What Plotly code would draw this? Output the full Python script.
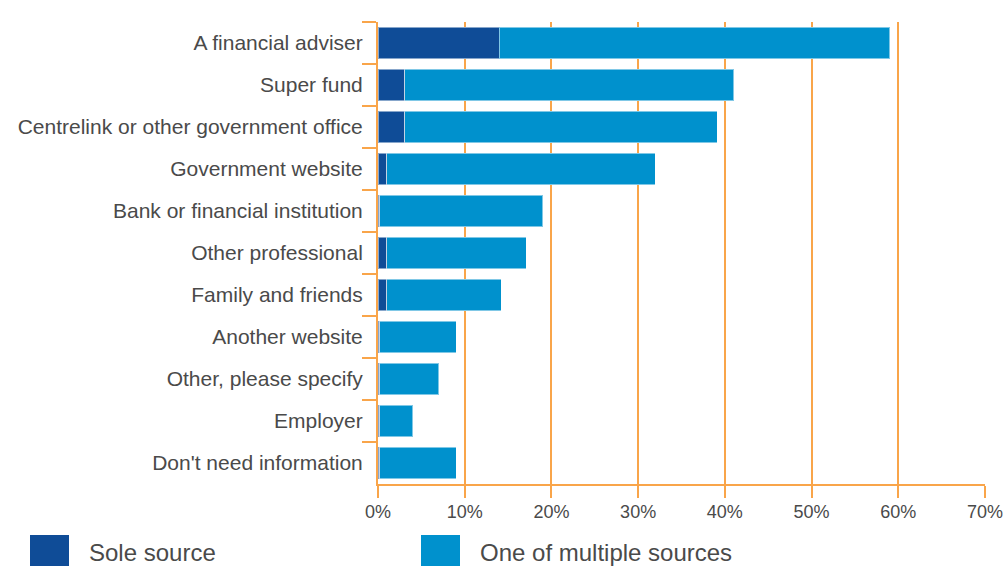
import plotly.graph_objects as go

categories = [
    "A financial adviser",
    "Super fund",
    "Centrelink or other government office",
    "Government website",
    "Bank or financial institution",
    "Other professional",
    "Family and friends",
    "Another website",
    "Other, please specify",
    "Employer",
    "Don't need information",
]
sole_source = [14, 3.1, 3.1, 1, 0.2, 1, 1, 0.2, 0.2, 0.2, 0.2]
multiple_sources = [45, 37.9, 36, 31, 18.8, 16.1, 13.2, 8.8, 6.8, 3.8, 8.8]
x_ticks = [0, 10, 20, 30, 40, 50, 60, 70]
x_tick_labels = ["0%", "10%", "20%", "30%", "40%", "50%", "60%", "70%"]

DARK = "#0f4c97"
LIGHT = "#0091cd"
ORANGE = "#f9a54a"
TEXT = "#4a4a4a"
FONT = "Liberation Sans, Arial, sans-serif"

W, H = 1008, 566
ML, MR, MT, MB = 378, 23, 22, 82

fig = go.Figure()
fig.add_trace(go.Bar(
    name="Sole source", y=categories, x=sole_source, orientation="h",
    marker=dict(color=DARK, line=dict(color="rgba(255,255,255,0.5)", width=1)),
))
fig.add_trace(go.Bar(
    name="One of multiple sources", y=categories, x=multiple_sources, orientation="h",
    marker=dict(color=LIGHT, line=dict(color="rgba(255,255,255,0.5)", width=1)),
))

# legend drawn by hand so the swatches can be large
pw = W - ML - MR
ph = H - MT - MB


def px_x(x):
    return (x - ML) / pw


def px_y(y):
    return (H - MB - y) / ph


legend_items = [("Sole source", DARK, 30), ("One of multiple sources", LIGHT, 421)]
shapes = []
annotations = []
for label, color, left in legend_items:
    shapes.append(dict(
        type="rect", xref="paper", yref="paper",
        x0=px_x(left), x1=px_x(left + 39), y0=px_y(535), y1=px_y(570),
        fillcolor=color, line=dict(width=0),
    ))
    annotations.append(dict(
        text=label, xref="paper", yref="paper", x=px_x(left + 57), y=px_y(552),
        xanchor="left", yanchor="middle", showarrow=False,
        font=dict(family=FONT, size=24, color=TEXT),
    ))

fig.update_layout(
    barmode="stack",
    bargap=0.26,
    width=W,
    height=H,
    margin=dict(l=ML, r=MR, t=MT, b=MB, autoexpand=False),
    plot_bgcolor="white",
    paper_bgcolor="white",
    showlegend=False,
    font=dict(family=FONT, size=21, color=TEXT),
    shapes=shapes,
    annotations=annotations,
    xaxis=dict(
        range=[0, 70],
        tickvals=x_ticks,
        ticktext=x_tick_labels,
        showgrid=True,
        gridcolor=ORANGE,
        gridwidth=2,
        zeroline=False,
        showline=True,
        linecolor=ORANGE,
        linewidth=2,
        ticks="outside",
        ticklen=12,
        tickwidth=2,
        tickcolor=ORANGE,
        tickfont=dict(size=18, color=TEXT),
        ticklabelstandoff=-2,
        automargin=False,
    ),
    yaxis=dict(
        autorange="reversed",
        showline=True,
        linecolor=ORANGE,
        linewidth=2,
        ticks="outside",
        tickson="boundaries",
        ticklen=14,
        tickwidth=2,
        tickcolor=ORANGE,
        showgrid=False,
        ticklabelstandoff=9,
        tickfont=dict(size=21, color=TEXT),
        automargin=False,
    ),
)

fig.write_html(
    "out.html",
    config={"displayModeBar": False},
    post_script="document.body.style.margin='0';document.body.style.overflow='hidden';",
)
